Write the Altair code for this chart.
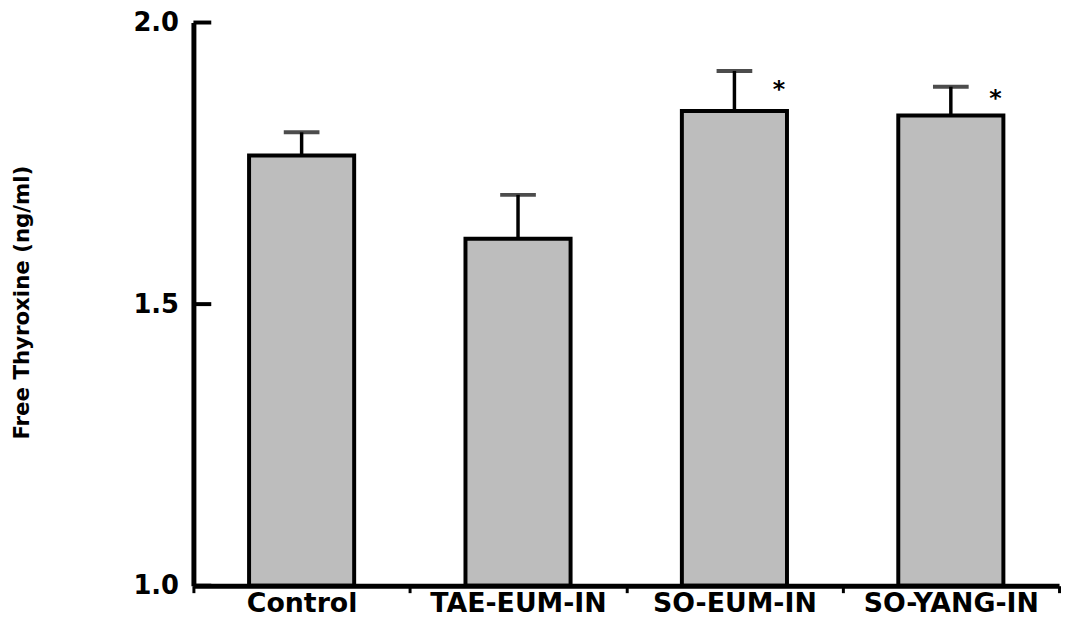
import altair as alt
import pandas as pd

categories = ["Control", "TAE-EUM-IN", "SO-EUM-IN", "SO-YANG-IN"]
means = [1.764, 1.616, 1.843, 1.835]
err_top = [1.805, 1.694, 1.914, 1.886]
star_cats = ["SO-EUM-IN", "SO-YANG-IN"]
star_y = [1.889, 1.873]
y_ticks = [1.0, 1.5, 2.0]

df = pd.DataFrame({"group": categories, "mean": means, "top": err_top, "base": [1.0] * 4})
stars = pd.DataFrame({"group": star_cats, "y": star_y, "label": ["*", "*"]})
ticks = pd.DataFrame({"v": y_ticks})

FONT = "DejaVu Sans"

x_enc = alt.X(
    "group:N",
    sort=categories,
    scale=alt.Scale(paddingInner=0, paddingOuter=0),
    axis=alt.Axis(
        title=None,
        labelFont=FONT,
        labelFontWeight="bold",
        labelFontSize=27,
        labelColor="black",
        labelAngle=0,
        labelPadding=-2,
        domainColor="black",
        domainWidth=5,
        tickColor="black",
        tickWidth=3,
        tickSize=7,
        tickBand="extent",
        zindex=1,
    ),
)

y_scale = alt.Scale(domain=[1.0, 2.0], zero=False, nice=False)

bars = alt.Chart(df).mark_bar(
    size=106, fill="#bdbdbd", stroke="black", strokeWidth=4
).encode(
    x=x_enc,
    y=alt.Y(
        "mean:Q",
        scale=y_scale,
        axis=alt.Axis(
            title="Free Thyroxine (ng/ml)",
            titleFont=FONT,
            titleFontWeight="bold",
            titleFontSize=21.5,
            titleColor="black",
            titleAngle=-90,
            titleX=-172,
            titleY=282,
            titleBaseline="middle",
            titleAlign="center",
            values=y_ticks,
            format=".1f",
            labelFont=FONT,
            labelFontWeight="bold",
            labelFontSize=26,
            labelColor="black",
            labelPadding=15,
            ticks=False,
            tickSize=0,
            grid=False,
            domainColor="black",
            domainWidth=5,
            zindex=1,
        ),
    ),
    y2="base:Q",
)

stem = alt.Chart(df).mark_rule(color="black", strokeWidth=3.5).encode(
    x=alt.X("group:N", sort=categories),
    y=alt.Y("mean:Q", scale=y_scale),
    y2="top:Q",
)

cap = alt.Chart(df).mark_tick(
    color="black", size=36, thickness=4, orient="horizontal"
).encode(
    x=alt.X("group:N", sort=categories),
    y=alt.Y("top:Q", scale=y_scale),
)

star_text = alt.Chart(stars).mark_text(
    font=FONT, fontWeight="bold", fontSize=24, color="black", dx=45, dy=5, baseline="middle"
).encode(
    x=alt.X("group:N", sort=categories),
    y=alt.Y("y:Q", scale=y_scale),
    text="label:N",
)

yticks = alt.Chart(ticks).mark_rule(color="black", strokeWidth=4).encode(
    x=alt.value(0),
    x2=alt.value(18),
    y=alt.Y("v:Q", scale=y_scale),
)

chart = alt.layer(bars, stem, cap, star_text, yticks).properties(
    width=873,
    height=568,
    background="white",
    autosize=alt.AutoSizeParams(type="none"),
    padding={"left": 187, "top": 12, "right": 4, "bottom": 40},
).configure_view(strokeWidth=0, stroke=None)

chart.save("out.html", embed_options={"renderer": "svg", "actions": False})
